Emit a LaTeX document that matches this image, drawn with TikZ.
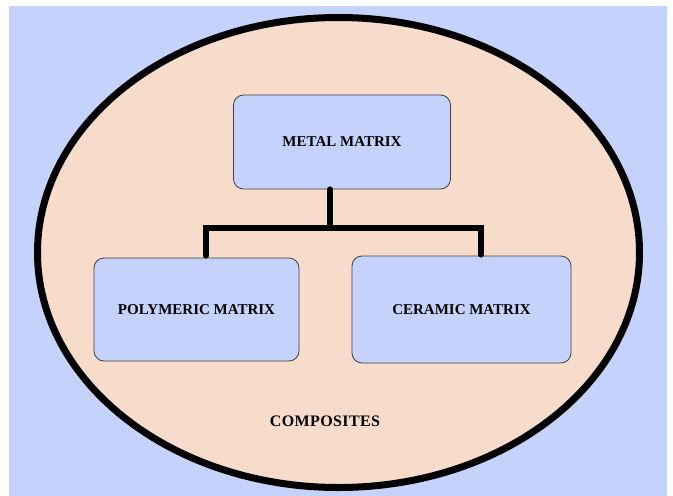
\documentclass[tikz,border=0pt]{standalone}
\usepackage{fontspec}
\setmainfont{Liberation Serif}
\usetikzlibrary{shapes.geometric}
\definecolor{bgblue}{RGB}{197,211,252}
\definecolor{peach}{RGB}{248,220,203}
\begin{document}
\begin{tikzpicture}[x=1pt,y=-1pt,
    matrixbox/.style={rectangle,rounded corners=10pt,draw=black!75,line width=0.8pt,
        fill=bgblue,inner sep=0pt,font=\fontsize{15}{18}\selectfont\bfseries},
    branch/.style={line width=6pt,line cap=round}]
\useasboundingbox (0,0) rectangle (673,496);
\fill[bgblue] (9,6) rectangle (667,496);
% outer ellipse
\node[ellipse,draw=black,line width=7pt,fill=peach,inner sep=0pt,
      minimum width=602,minimum height=470] (composite) at (338.5,252.5) {};
\node[font=\fontsize{16}{19}\selectfont\bfseries] (complabel) at (325,421) {C\kern0.4pt O\kern0.4pt M\kern0.4pt P\kern0.4pt O\kern0.4pt S\kern0.4pt I\kern0.4pt T\kern0.4pt E\kern0.4pt S};
% matrix boxes
\node[matrixbox,minimum width=217,minimum height=94] (metal) at (342,142) {METAL MATRIX};
\node[matrixbox,minimum width=205,minimum height=103] (poly) at (196.5,309.5) {POLYMERIC MATRIX};
\node[matrixbox,minimum width=219,minimum height=107] (ceram) at (461.5,309.5) {CERAMIC MATRIX};
% tree lines
\coordinate (jm) at (330,228);
\coordinate (jl) at (206,228);
\coordinate (jr) at (480.5,228);
\draw[branch] (metal.south -| jm) -- (jm);
\draw[branch] ([yshift=2]poly.north -| jl) -- (jl) -- (jr) -- ([yshift=1]ceram.north -| jr);
\end{tikzpicture}
\end{document}
